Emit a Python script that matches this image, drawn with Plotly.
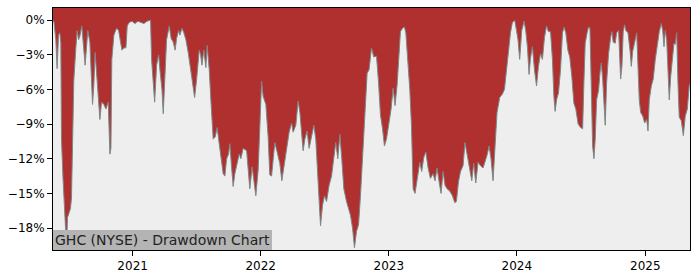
import numpy as np
import pandas as pd
import plotly.graph_objects as go

# Time of each observation as a decimal year, drawdown in percent
years = [
    2020.380, 2020.388, 2020.402, 2020.412, 2020.423, 2020.433, 2020.441, 2020.446, 2020.458, 2020.472,
    2020.480, 2020.485, 2020.493, 2020.503, 2020.516, 2020.524, 2020.532, 2020.542, 2020.558, 2020.568,
    2020.579, 2020.589, 2020.604, 2020.615, 2020.630, 2020.651, 2020.667, 2020.688, 2020.698, 2020.708,
    2020.719, 2020.735, 2020.745, 2020.758, 2020.776, 2020.792, 2020.810, 2020.823, 2020.831, 2020.838,
    2020.854, 2020.875, 2020.891, 2020.906, 2020.917, 2020.932, 2020.948, 2020.958, 2020.973, 2020.995,
    2021.018, 2021.041, 2021.065, 2021.088, 2021.112, 2021.140, 2021.148, 2021.161, 2021.172, 2021.187,
    2021.203, 2021.213, 2021.229, 2021.239, 2021.250, 2021.265, 2021.286, 2021.301, 2021.317, 2021.332,
    2021.343, 2021.359, 2021.369, 2021.385, 2021.400, 2021.416, 2021.434, 2021.453, 2021.468, 2021.484,
    2021.499, 2021.520, 2021.531, 2021.541, 2021.556, 2021.572, 2021.582, 2021.598, 2021.613, 2021.629,
    2021.645, 2021.660, 2021.676, 2021.691, 2021.707, 2021.720, 2021.734, 2021.749, 2021.759, 2021.773,
    2021.785, 2021.798, 2021.816, 2021.832, 2021.845, 2021.863, 2021.890, 2021.915, 2021.933, 2021.962,
    2021.980, 2022.007, 2022.019, 2022.040, 2022.058, 2022.071, 2022.085, 2022.097, 2022.110, 2022.128,
    2022.149, 2022.165, 2022.181, 2022.202, 2022.222, 2022.241, 2022.253, 2022.274, 2022.292, 2022.306,
    2022.319, 2022.331, 2022.345, 2022.362, 2022.378, 2022.397, 2022.415, 2022.430, 2022.444, 2022.456,
    2022.467, 2022.483, 2022.498, 2022.514, 2022.534, 2022.553, 2022.571, 2022.586, 2022.602, 2022.618,
    2022.633, 2022.649, 2022.670, 2022.686, 2022.701, 2022.717, 2022.732, 2022.748, 2022.764, 2022.779,
    2022.795, 2022.813, 2022.831, 2022.846, 2022.865, 2022.883, 2022.904, 2022.920, 2022.935, 2022.951,
    2022.966, 2022.982, 2023.002, 2023.018, 2023.034, 2023.049, 2023.065, 2023.080, 2023.091, 2023.107,
    2023.122, 2023.133, 2023.148, 2023.164, 2023.177, 2023.190, 2023.205, 2023.221, 2023.242, 2023.257,
    2023.273, 2023.289, 2023.307, 2023.325, 2023.346, 2023.361, 2023.377, 2023.393, 2023.408, 2023.424,
    2023.439, 2023.455, 2023.476, 2023.497, 2023.515, 2023.528, 2023.544, 2023.560, 2023.580, 2023.595,
    2023.611, 2023.632, 2023.648, 2023.663, 2023.679, 2023.697, 2023.716, 2023.736, 2023.751, 2023.767,
    2023.783, 2023.798, 2023.814, 2023.830, 2023.845, 2023.866, 2023.887, 2023.903, 2023.918, 2023.934,
    2023.950, 2023.965, 2023.983, 2023.997, 2024.009, 2024.022, 2024.038, 2024.056, 2024.069, 2024.082,
    2024.095, 2024.106, 2024.121, 2024.137, 2024.153, 2024.168, 2024.184, 2024.199, 2024.215, 2024.231,
    2024.246, 2024.262, 2024.277, 2024.288, 2024.298, 2024.309, 2024.324, 2024.340, 2024.355, 2024.368,
    2024.381, 2024.397, 2024.412, 2024.428, 2024.444, 2024.459, 2024.477, 2024.496, 2024.512, 2024.522,
    2024.532, 2024.547, 2024.558, 2024.569, 2024.579, 2024.590, 2024.600, 2024.610, 2024.621, 2024.636,
    2024.647, 2024.657, 2024.668, 2024.678, 2024.688, 2024.699, 2024.714, 2024.730, 2024.740, 2024.750,
    2024.766, 2024.777, 2024.792, 2024.808, 2024.818, 2024.828, 2024.839, 2024.849, 2024.865, 2024.881,
    2024.891, 2024.902, 2024.917, 2024.933, 2024.943, 2024.953, 2024.964, 2024.980, 2024.995, 2025.011,
    2025.021, 2025.031, 2025.047, 2025.062, 2025.078, 2025.094, 2025.109, 2025.125, 2025.136, 2025.146,
    2025.156, 2025.167, 2025.177, 2025.187, 2025.198, 2025.208, 2025.224, 2025.234, 2025.245, 2025.255,
    2025.265, 2025.281, 2025.297, 2025.312, 2025.328, 2025.343, 2025.349,
]

drawdown = [
    -0.0, -0.2, -1.7, -4.2, -1.3, -1.1, -2.0, -10.3, -13.7, -16.3,
    -18.8, -19.7, -17.1, -16.7, -16.3, -15.4, -9.4, -5.2, -2.4, -0.9,
    -1.7, -1.4, -0.5, -2.2, -3.9, -0.9, -1.9, -7.3, -5.6, -2.8,
    -4.7, -7.7, -8.6, -7.1, -7.3, -7.7, -7.1, -11.6, -11.1, -3.4,
    -1.3, -0.7, -0.9, -1.9, -2.6, -2.4, -2.4, -0.5, -0.2, -0.1,
    -0.3, -0.1, -0.2, -0.3, -0.1, 0.0, -3.4, -5.2, -7.1, -3.9,
    -3.0, -4.3, -6.0, -8.1, -4.7, -1.7, -0.5, -1.6, -1.9, -2.6,
    -1.6, -0.9, -1.3, -0.7, -1.1, -1.7, -2.8, -4.3, -5.6, -6.7,
    -5.2, -2.6, -3.0, -3.9, -2.6, -4.1, -2.2, -4.3, -7.3, -10.3,
    -10.1, -9.3, -10.7, -11.8, -13.3, -13.5, -12.0, -11.6, -10.7, -12.8,
    -14.4, -13.3, -12.4, -11.6, -12.0, -11.1, -11.3, -14.6, -12.7, -15.2,
    -13.0, -5.3, -6.6, -7.3, -10.1, -13.4, -13.5, -12.0, -10.6, -11.4,
    -12.4, -13.9, -12.6, -11.1, -9.7, -8.9, -9.7, -9.1, -7.0, -8.0,
    -9.9, -11.3, -10.3, -9.6, -11.1, -9.9, -9.1, -10.3, -13.4, -16.5,
    -17.8, -16.0, -15.2, -15.7, -14.3, -13.5, -11.7, -10.6, -12.0, -9.9,
    -12.0, -14.6, -15.7, -16.3, -16.9, -18.0, -19.7, -18.3, -17.7, -15.2,
    -12.0, -8.6, -4.6, -4.3, -2.4, -3.2, -3.1, -5.4, -8.2, -9.4,
    -10.9, -10.3, -8.9, -7.7, -5.9, -7.4, -5.6, -3.2, -1.0, -0.7,
    -0.6, -1.1, -3.4, -6.0, -9.1, -14.6, -15.0, -13.7, -12.3, -13.1,
    -11.9, -11.4, -12.8, -13.7, -13.3, -13.9, -12.8, -14.0, -15.0, -13.1,
    -14.3, -14.6, -14.8, -15.2, -15.8, -15.7, -14.0, -13.1, -12.6, -10.6,
    -11.7, -13.1, -13.9, -12.4, -14.1, -12.3, -12.6, -12.8, -12.3, -11.7,
    -10.9, -12.0, -13.9, -10.6, -8.0, -6.7, -6.4, -6.0, -4.3, -2.9,
    -1.1, -0.2, 0.0, -0.9, -1.7, -3.4, -0.9, -0.1, -0.9, -2.3,
    -4.7, -3.3, -2.3, -4.3, -5.7, -4.0, -2.9, -3.4, -1.5, -0.5,
    -1.0, -1.0, -3.4, -6.6, -7.9, -6.9, -6.3, -4.3, -1.1, -0.6,
    -1.1, -2.6, -3.2, -4.9, -7.2, -7.7, -9.0, -9.3, -9.4, -5.4,
    -2.0, -1.1, -0.6, -0.7, -5.4, -10.9, -12.0, -10.3, -6.9, -6.1,
    -4.6, -3.7, -5.1, -7.7, -9.1, -5.4, -2.9, -1.5, -1.0, -1.9,
    -2.0, -1.1, -0.9, -5.1, -4.0, -1.0, -0.4, -0.9, -1.1, -2.6,
    -4.0, -2.7, -2.0, -1.1, -4.0, -6.9, -8.0, -8.3, -8.9, -8.6,
    -9.6, -6.9, -5.7, -5.1, -3.4, -2.2, -1.0, -0.3, -0.9, -2.3,
    -0.9, -1.7, -4.0, -6.9, -4.9, -3.6, -2.0, -2.1, -1.1, -5.4,
    -8.4, -8.7, -10.0, -8.3, -7.7, -5.7, -5.5,
]

y_tick_values = [0, -3, -6, -9, -12, -15, -18]
y_tick_labels = ["0%", "\u22123%", "\u22126%", "\u22129%", "\u221212%", "\u221215%", "\u221218%"]
x_tick_labels = ["2021", "2022", "2023", "2024", "2025"]
title_text = "GHC (NYSE) - Drawdown Chart"

Y_RANGE = [-19.9, 1.05]


def to_datetime(y):
    yr = int(np.floor(y))
    start = pd.Timestamp(year=yr, month=1, day=1)
    end = pd.Timestamp(year=yr + 1, month=1, day=1)
    return start + (end - start) * (y - yr)


dates = [to_datetime(v) for v in years]
x_tick_dates = [pd.Timestamp(year=int(t), month=1, day=1) for t in x_tick_labels]

fig = go.Figure()
# baseline at the bottom of the axes; the area between it and the drawdown
# line is the light background, everything above the line shows red
fig.add_trace(go.Scatter(
    x=[dates[0], dates[-1]], y=[Y_RANGE[0], Y_RANGE[0]], mode="lines",
    line=dict(width=0, color="rgba(0,0,0,0)"),
    hoverinfo="skip", showlegend=False,
))
fig.add_trace(go.Scatter(
    x=dates, y=drawdown, mode="lines",
    line=dict(color="rgba(125,135,135,1)", width=1),
    fill="tonexty", fillcolor="#EEEEEE",
    hoverinfo="skip", showlegend=False,
))

font_family = "DejaVu Sans"
fig.update_layout(
    width=700, height=280,
    margin=dict(l=53, r=10, t=7, b=28),
    paper_bgcolor="white", plot_bgcolor="#B03030",
    font=dict(family=font_family, size=12, color="black"),
    showlegend=False,
)
fig.update_xaxes(
    range=[dates[0], dates[-1]],
    tickvals=x_tick_dates, ticktext=x_tick_labels,
    ticks="outside", ticklen=5, tickwidth=1, tickcolor="black",
    showgrid=False, zeroline=False,
    showline=True, linecolor="black", linewidth=1, mirror=True,
    tickfont=dict(size=12),
)
fig.update_yaxes(
    range=Y_RANGE,
    tickvals=y_tick_values, ticktext=y_tick_labels,
    ticks="outside", ticklen=5, tickwidth=1, tickcolor="black",
    showgrid=False, zeroline=False,
    showline=True, linecolor="black", linewidth=1, mirror=True,
    tickfont=dict(size=12),
)
fig.add_annotation(
    text=title_text, xref="paper", yref="paper", x=0, y=0,
    xanchor="left", yanchor="bottom", showarrow=False,
    font=dict(family=font_family, size=14, color="#222222"),
    bgcolor="#B4B4B4", borderpad=2, borderwidth=0,
)

fig.write_html("out.html")
